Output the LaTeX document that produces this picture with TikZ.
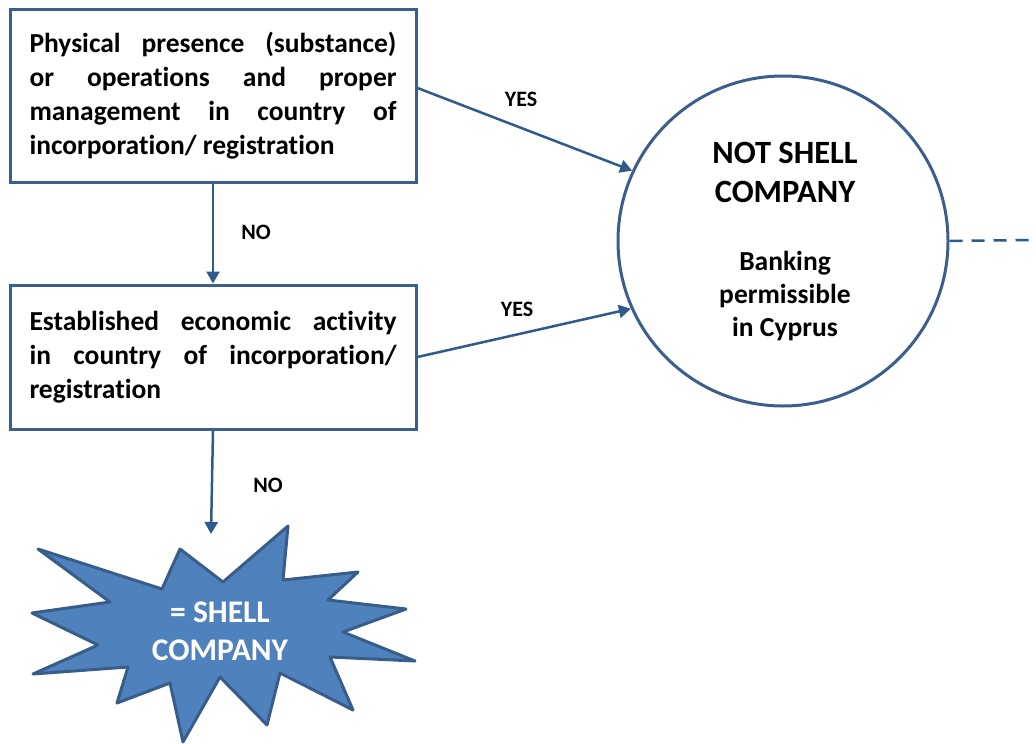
\documentclass[tikz,border=0pt]{standalone}
\usepackage{fontspec}
\setmainfont{Carlito}[Ligatures=NoCommon]
\usetikzlibrary{arrows.meta}
\definecolor{edge}{HTML}{3A5F8E}
\definecolor{arr}{HTML}{2F5A8C}
\definecolor{burstfill}{HTML}{4F81BD}
\definecolor{burstedge}{HTML}{385D8A}
\newcommand{\jl}[1]{\makebox[367pt][s]{#1}}
\tikzset{
  qbox/.style={draw=edge, line width=3pt, fill=white, minimum width=406pt, inner sep=0pt, font=\bfseries\fontsize{27.5}{34}\selectfont, align=left},
  conn/.style={draw=arr, line width=2.5pt, -{Triangle[length=12pt,width=13pt]}},
  lbl/.style={font=\bfseries\fontsize{22}{24}\selectfont, inner sep=0pt},
}
\begin{document}
\begin{tikzpicture}[x=1pt,y=-1pt]
\useasboundingbox (0,0) rectangle (1036,744);
\node[qbox, minimum height=173pt] (b1) at (213,95.5) {\jl{Physical presence (substance)}\\\jl{or operations and proper}\\\jl{management in country of}\\incorporation/ registration};
\node[qbox, minimum height=144pt] (b2) at (213,357) {\jl{Established economic activity}\\\jl{in country of incorporation/}\\registration};
\node[draw=edge, line width=3pt, circle, minimum size=330pt, inner sep=0pt] (c) at (783,241) {};
\node[font=\bfseries\fontsize{32.5}{39}\selectfont, align=center, inner sep=0pt] (ns) at (785,172.5) {NOT SHELL\\COMPANY};
\node[font=\bfseries\fontsize{27.5}{33}\selectfont, align=center, inner sep=0pt] (bk) at (785,296) {Banking\\permissible\\in Cyprus};
% starburst
\draw[fill=burstfill, draw=burstedge, line width=3pt, line join=round]
 (38,549) -- (162,589) -- (180,549) -- (223,582) -- (288,526) -- (283,580) -- (358,572) -- (328,600) -- (406,609) -- (343,632) -- (415,661) -- (330,657) -- (353,710) -- (280,673) -- (267,725) -- (220,677) -- (183,742) -- (170,683) -- (117,703) -- (128,667) -- (33,674) -- (98,645) -- (32,613) -- (110,602) -- cycle;
\node[font=\bfseries\fontsize{31.5}{38}\selectfont, align=center, text=white, inner sep=0pt] (sh) at (220,631) {= SHELL\\COMPANY};
% connectors
\coordinate (bend) at (211,534);
\coordinate (dend) at (1036,240);
\draw[conn] ([yshift=7.5pt]b1.east) -- (c.155);
\draw[conn] (b2.east) -- (c.204);
\draw[conn] (b1.south) -- (b2.north);
\draw[conn] (b2.south) -- (bend);
\draw[draw=arr, line width=2.5pt, dash pattern=on 13pt off 9pt] (c.east) -- (dend);
\node[lbl] (y1) at (521,99) {YES};
\node[lbl] (y2) at (517,309) {YES};
\node[lbl] (n1) at (256,232) {NO};
\node[lbl] (n2) at (268,485) {NO};
\end{tikzpicture}
\end{document}
